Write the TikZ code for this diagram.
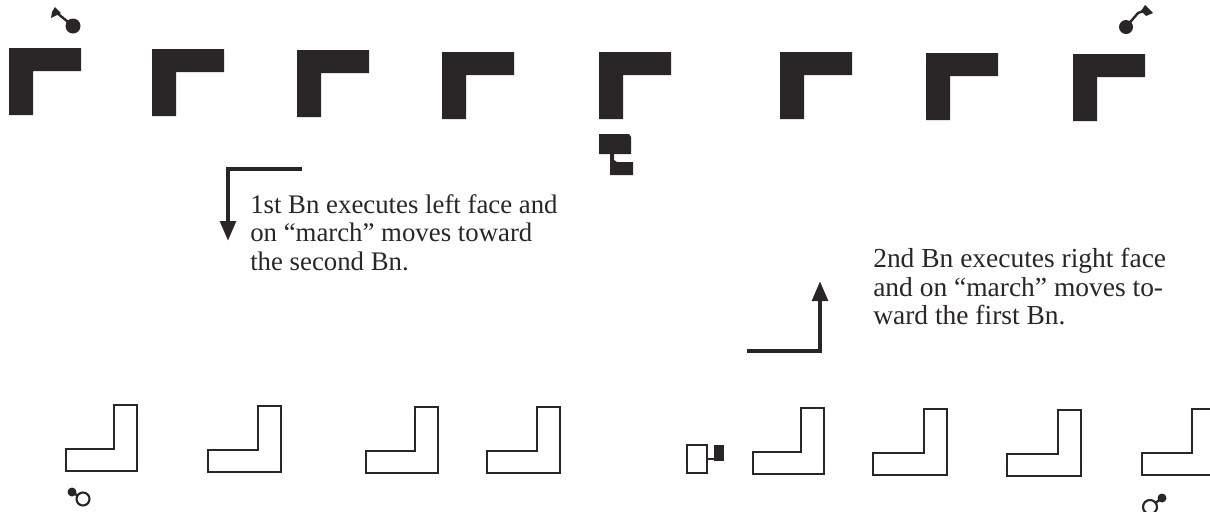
\documentclass[tikz,border=0pt]{standalone}
\usepackage{fontspec}
\setmainfont{Liberation Serif}
\usetikzlibrary{arrows.meta}
\definecolor{inkdark}{HTML}{2A2627}
\tikzset{
  solidunit/.style={fill=inkdark},
  openunit/.style={draw=inkdark, line width=1.6pt, fill=white, line join=miter},
  staffline/.style={draw=inkdark, line width=1.8pt},
  turnarrow/.style={draw=inkdark, line width=3.3pt, -{Triangle[length=15pt,width=11.5pt]}},
  orderlabel/.style={font=\fontsize{20.1pt}{21.5pt}\selectfont, text=inkdark, align=left, anchor=north west, inner sep=0pt}
}

\begin{document}
\begin{tikzpicture}[x=0.75pt, y=-0.75pt]
\clip (0,0) rectangle (1210,511);
% first battalion
\foreach \x/\y in {9/48, 152/49, 297/50, 442/52, 599/52, 780/52, 926/53, 1073/54}
  \fill[solidunit] (\x,\y) -- ++(72,0) -- ++(0,23) -- ++(-48,0) -- ++(0,44) -- ++(-24,0) -- cycle;
\fill[solidunit] (599,134) -- (629,134) -- (631,137) -- (631,154) -- (614,154) -- (614,160) -- (617,162) -- (633,162) -- (633,175) -- (610,175) -- (610,154) -- (599,154) -- cycle;
% second battalion
\foreach \x/\y/\w in {66/405/71, 208/406/73, 366/407/72, 487/407/73, 753/408/71, 873/409/74, 1007/410/74, 1142/409/73}
  \draw[openunit] (\x,\y+44) -- ++(\w-23,0) -- ++(0,-44) -- ++(23,0) -- ++(0,66) -- ++(-\w,0) -- cycle;
\draw[openunit] (687,445) rectangle (707,473);
\fill[solidunit] (714,445) rectangle (724,461);
\draw[staffline] (707,459) -- (714,459);
% commanders
\fill[solidunit] (73,26) circle (7.5);
\draw[staffline] (73,26) -- (57,13);
\fill[solidunit] (55,7) -- (61,13) -- (51,18) -- (52,12) -- cycle;
\fill[solidunit] (1126,27) circle (7);
\draw[staffline] (1126,27) -- (1138,13) -- (1146,10);
\fill[solidunit] (1145,5) -- (1153,13) -- (1146,16) -- (1141,11) -- cycle;
\draw[staffline] (72,492) -- (83,499);
\draw[openunit] (83,499) circle (6.5);
\fill[solidunit] (72,492) circle (4.5);
\draw[staffline] (1162,498) -- (1150,507);
\draw[openunit] (1150,507) circle (7);
\fill[solidunit] (1162,498) circle (4.5);
% movement arrows
\coordinate (leftstart) at (302,169);
\coordinate (leftcorner) at (228,169);
\coordinate (lefttip) at (228,241);
\coordinate (rightstart) at (747,351);
\coordinate (rightcorner) at (820,351);
\coordinate (righttip) at (820,281);
\draw[turnarrow] (leftstart) -- (leftcorner) -- (lefttip);
\draw[turnarrow] (rightstart) -- (rightcorner) -- (righttip);
% orders
\node[orderlabel] (firstorder) at (250,194) {1st Bn executes left face and\\on “march” moves toward\\the second Bn.};
\node[orderlabel, font=\fontsize{20.6pt}{21.5pt}\selectfont] (secondorder) at (873,248) {2nd Bn executes right face\\and on “march” moves to-\\ward the first Bn.};
\end{tikzpicture}
\end{document}
